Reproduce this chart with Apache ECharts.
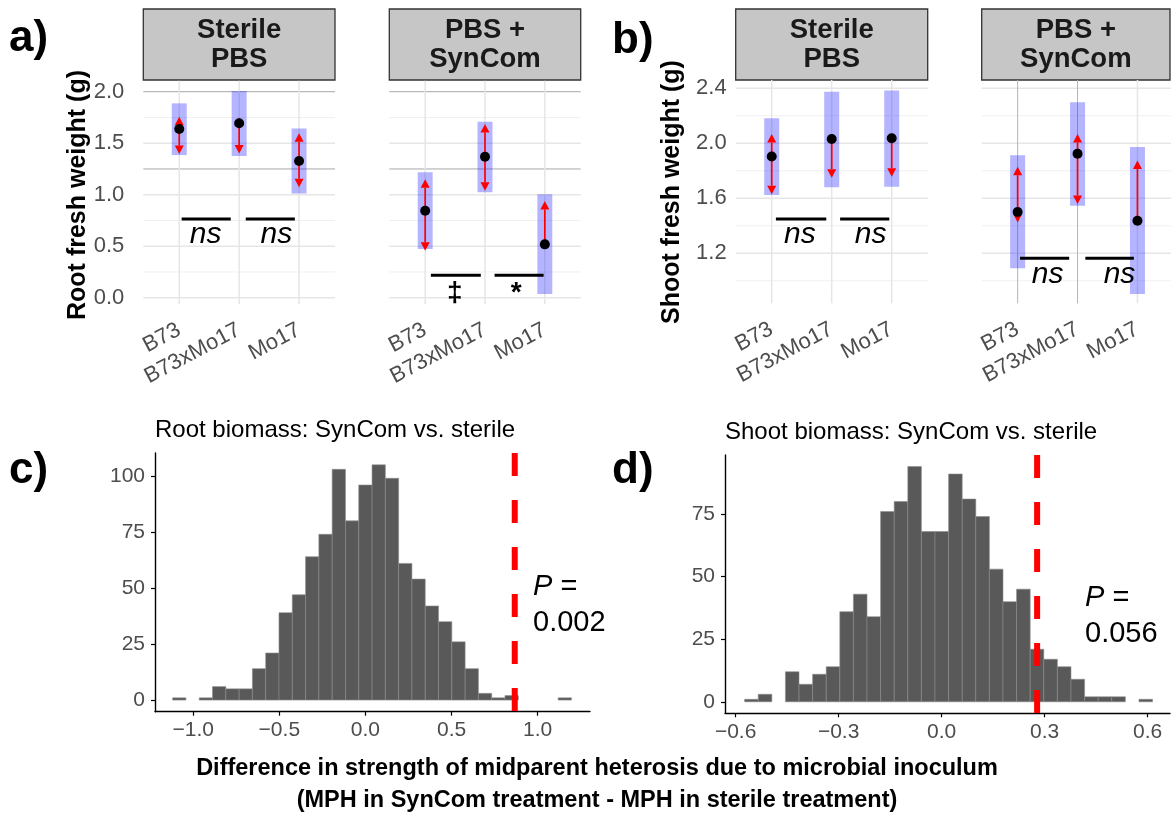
<!DOCTYPE html>
<html><head><meta charset="utf-8">
<script src="https://cdn.jsdelivr.net/npm/echarts@6/dist/echarts.min.js"></script>
<style>html,body{margin:0;padding:0;background:#fff}#c{width:1171px;height:814px}</style>
</head><body><div id="c"></div>
<script>
const FONT = "'Liberation Sans', Arial, Helvetica, sans-serif";

// ---------- top panels: categories ----------
const categories = ['B73', 'B73xMo17', 'Mo17'];
const facetLabels = ['Sterile\nPBS', 'PBS +\nSynCom'];

// a) Root fresh weight (g) - Sterile PBS
const rootSterileMean = [1.638, 1.693, 1.327];
const rootSterileCILow = [1.385, 1.376, 1.013];
const rootSterileCIHigh = [1.887, 2.007, 1.644];
const rootSterileArrowLow = [1.395, 1.40, 1.072];
const rootSterileArrowHigh = [1.757, 1.75, 1.596];
// a) Root fresh weight (g) - PBS + SynCom
const rootSynMean = [0.845, 1.369, 0.518];
const rootSynCILow = [0.473, 1.023, 0.036];
const rootSynCIHigh = [1.217, 1.709, 1.004];
const rootSynArrowLow = [0.456, 1.039, null];
const rootSynArrowHigh = [1.149, 1.686, 0.939];
// b) Shoot fresh weight (g) - Sterile PBS
const shootSterileMean = [1.903, 2.031, 2.036];
const shootSterileCILow = [1.624, 1.68, 1.684];
const shootSterileCIHigh = [2.182, 2.375, 2.383];
const shootSterileArrowLow = [1.629, 1.75, 1.757];
const shootSterileArrowHigh = [2.068, null, null];
// b) Shoot fresh weight (g) - PBS + SynCom
const shootSynMean = [1.500, 1.924, 1.437];
const shootSynCILow = [1.091, 1.546, 0.904];
const shootSynCIHigh = [1.913, 2.298, 1.973];
const shootSynArrowLow = [1.423, 1.559, null];
const shootSynArrowHigh = [1.83, 2.068, 1.874];

// significance brackets: [xStart, xEnd, y]; labels: [x, y, text]
const rootSterileSigLines = [[1.04, 1.86, 0.764], [2.11, 2.93, 0.764]];
const rootSterileSigLabels = [[1.44, 0.61, 'ns'], [2.62, 0.61, 'ns']];
const rootSynSigLines = [[1.095, 1.93, 0.217], [2.16, 2.98, 0.217]];
const rootSynSigLabels = [[1.495, 0.04, '‡'], [2.52, 0.046, '*']];
const shootSterileSigLines = [[1.07, 1.91, 1.449], [2.14, 2.96, 1.449]];
const shootSterileSigLabels = [[1.47, 1.333, 'ns'], [2.65, 1.333, 'ns']];
const shootSynSigLines = [[1.04, 1.86, 1.164], [2.13, 2.94, 1.164]];
const shootSynSigLabels = [[1.5, 1.046, 'ns'], [2.70, 1.046, 'ns']];

// tick values
const rootTicks = [0, 0.5, 1.0, 1.5, 2.0];
const rootMinorTicks = [0.25, 0.75, 1.25, 1.75];
const shootTicks = [1.2, 1.6, 2.0, 2.4];
const shootMinorTicks = [1.0, 1.4, 1.8, 2.2];

// ---------- histograms (30 bins each) ----------
const rootBinWidth = 0.0772;
const rootFirstBinCenter = -1.081;
const rootCounts = [1, 0, 1, 6, 5, 5, 14, 21, 39, 47, 64, 74, 103, 80, 96, 105, 99, 61, 54, 42, 35, 26, 14, 3, 1, 2, 0, 0, 0, 1];
const rootObserved = 0.867;
const rootP = '0.002';
const rootXTicks = [-1.0, -0.5, 0.0, 0.5, 1.0];
const rootYTicks = [0, 25, 50, 75, 100];

const shootBinWidth = 0.0396;
const shootFirstBinCenter = -0.554;
const shootCounts = [1, 3, 0, 12, 7, 11, 14, 36, 43, 34, 76, 80, 94, 68, 68, 91, 81, 74, 53, 40, 45, 21, 17, 14, 9, 2, 2, 2, 0, 1];
const shootObserved = 0.278;
const shootP = '0.056';
const shootXTicks = [-0.6, -0.3, 0.0, 0.3, 0.6];
const shootYTicks = [0, 25, 50, 75];

// ---------- build ----------
const chart = echarts.init(document.getElementById('c'), null, {renderer: 'canvas'});

const facets = [
  {mean: rootSterileMean, lo: rootSterileCILow, hi: rootSterileCIHigh, al: rootSterileArrowLow, ah: rootSterileArrowHigh,
   sigL: rootSterileSigLines, sigT: rootSterileSigLabels, major: rootTicks, minor: rootMinorTicks, darkH: [1.25, 2.0], darkV: [],
   grid: {left: 143.3, top: 80.8, width: 191.7, height: 223.4}, yMin: -0.063, yMax: 2.106, showY: true, labelMargin: 19},
  {mean: rootSynMean, lo: rootSynCILow, hi: rootSynCIHigh, al: rootSynArrowLow, ah: rootSynArrowHigh,
   sigL: rootSynSigLines, sigT: rootSynSigLabels, major: rootTicks, minor: rootMinorTicks, darkH: [1.25, 2.0], darkV: [],
   grid: {left: 389.3, top: 80.8, width: 191.4, height: 223.4}, yMin: -0.063, yMax: 2.106, showY: false},
  {mean: shootSterileMean, lo: shootSterileCILow, hi: shootSterileCIHigh, al: shootSterileArrowLow, ah: shootSterileArrowHigh,
   sigL: shootSterileSigLines, sigT: shootSterileSigLabels, major: shootTicks, minor: shootMinorTicks, darkH: [], darkV: [],
   grid: {left: 735.7, top: 80, width: 192, height: 223.3}, yMin: 0.836, yMax: 2.46, showY: true, labelMargin: 9},
  {mean: shootSynMean, lo: shootSynCILow, hi: shootSynCIHigh, al: shootSynArrowLow, ah: shootSynArrowHigh,
   sigL: shootSynSigLines, sigT: shootSynSigLabels, major: shootTicks, minor: shootMinorTicks, darkH: [], darkV: [1, 2],
   grid: {left: 981.7, top: 80, width: 191.7, height: 223.3}, yMin: 0.836, yMax: 2.46, showY: false}
];

const grids = [], xAxes = [], yAxes = [], series = [];

facets.forEach((f, i) => {
  grids.push(Object.assign({containLabel: false, outerBoundsMode: 'none'}, f.grid));
  xAxes.push({gridIndex: i, type: 'value', min: 0.4, max: 3.6,
    axisLine: {show: false}, axisTick: {show: false}, splitLine: {show: false},
    axisLabel: {customValues: [1, 2, 3], formatter: v => categories[Math.round(v) - 1],
      rotate: 28, fontSize: 22, color: '#4d4d4d', fontFamily: FONT, margin: 12, align: 'right', verticalAlign: 'top',
      padding: [0, 6, 0, 0]}});
  yAxes.push({gridIndex: i, type: 'value', min: f.yMin, max: f.yMax,
    axisLine: {show: false}, axisTick: {show: false}, splitLine: {show: false},
    axisLabel: {show: f.showY, customValues: f.major, formatter: v => v.toFixed(1),
      fontSize: 22, color: '#4d4d4d', fontFamily: FONT, margin: f.labelMargin || 10}});

  // minor horizontal grid
  series.push({type: 'custom', xAxisIndex: i, yAxisIndex: i, z: 1, silent: true,
    data: f.minor.map(v => [1, v]),
    renderItem: (params, api) => {
      const y = api.coord([1, api.value(1)])[1];
      const cs = params.coordSys;
      const dark = f.darkH.indexOf(api.value(1)) >= 0;
      return {type: 'line', shape: {x1: cs.x, y1: y, x2: cs.x + cs.width, y2: y},
        style: {stroke: dark ? '#a8a8a8' : '#f0f0f0', lineWidth: 1}};
    }});
  // major horizontal grid
  series.push({type: 'custom', xAxisIndex: i, yAxisIndex: i, z: 2, silent: true,
    data: f.major.map(v => [1, v]),
    renderItem: (params, api) => {
      const y = api.coord([1, api.value(1)])[1];
      const cs = params.coordSys;
      const dark = f.darkH.some(d => Math.abs(d - api.value(1)) < 1e-9);
      return {type: 'line', shape: {x1: cs.x, y1: y, x2: cs.x + cs.width, y2: y},
        style: {stroke: dark ? '#a8a8a8' : '#e6e6e6', lineWidth: dark ? 1 : 1.5}};
    }});
  // vertical grid at categories
  series.push({type: 'custom', xAxisIndex: i, yAxisIndex: i, z: 2, silent: true,
    data: categories.map((c, k) => [k + 1, f.major[0]]),
    renderItem: (params, api) => {
      const x = api.coord([api.value(0), f.major[0]])[0];
      const cs = params.coordSys;
      const dark = f.darkV.indexOf(api.value(0)) >= 0;
      return {type: 'line', shape: {x1: x, y1: cs.y, x2: x, y2: cs.y + cs.height},
        style: {stroke: dark ? '#b4b4b4' : '#e6e6e6', lineWidth: dark ? 1 : 1.5}};
    }});
  // CI bands, comparison arrows, means
  series.push({type: 'custom', xAxisIndex: i, yAxisIndex: i, z: 5, silent: true,
    data: categories.map((c, k) => [k + 1, f.mean[k], f.lo[k], f.hi[k]]),
    renderItem: (params, api) => {
      const k = params.dataIndex;
      const x = api.value(0), m = api.value(1);
      const pm = api.coord([x, m]);
      const plo = api.coord([x, api.value(2)]), phi = api.coord([x, api.value(3)]);
      const hw = api.size([0.25, 0])[0] / 2;
      const children = [{type: 'rect', shape: {x: pm[0] - hw, y: phi[1], width: 2 * hw, height: plo[1] - phi[1]},
        style: {fill: 'rgba(30,30,255,0.33)'}}];
      [f.al[k], f.ah[k]].forEach(t => {
        if (t === null || t === undefined) return;
        const pt = api.coord([x, t]);
        const len = Math.abs(pt[1] - pm[1]);
        if (len < 2) return;
        const dir = pt[1] < pm[1] ? -1 : 1;
        const head = 8.5, hwid = 4.5;
        const baseY = pt[1] - dir * head;
        if (len > head) {
          children.push({type: 'line', shape: {x1: pm[0], y1: pm[1], x2: pt[0], y2: baseY},
            style: {stroke: '#ff0000', lineWidth: 1.7}});
        }
        children.push({type: 'polygon', shape: {points: [[pt[0], pt[1]], [pt[0] - hwid, baseY], [pt[0] + hwid, baseY]]},
          style: {fill: '#ff0000'}});
      });
      children.push({type: 'circle', shape: {cx: pm[0], cy: pm[1], r: 5}, style: {fill: '#000'}});
      return {type: 'group', children};
    }});
  // significance lines
  series.push({type: 'custom', xAxisIndex: i, yAxisIndex: i, z: 6, silent: true,
    data: f.sigL.map(s => [s[0], s[2], s[1]]),
    renderItem: (params, api) => {
      const p1 = api.coord([api.value(0), api.value(1)]);
      const p2 = api.coord([api.value(2), api.value(1)]);
      return {type: 'line', shape: {x1: p1[0], y1: p1[1], x2: p2[0], y2: p2[1]},
        style: {stroke: '#000', lineWidth: 3}};
    }});
  // significance labels
  series.push({type: 'custom', xAxisIndex: i, yAxisIndex: i, z: 7, silent: true,
    data: f.sigT.map(s => [s[0], s[1]]),
    renderItem: (params, api) => {
      const p = api.coord([api.value(0), api.value(1)]);
      const txt = f.sigT[params.dataIndex][2];
      const isNs = txt === 'ns';
      return {type: 'text', x: p[0], y: p[1],
        style: {text: txt, fill: '#000', align: 'center', verticalAlign: 'middle',
          font: (isNs ? 'italic 30px ' : 'bold 28px ') + FONT}};
    }});
});

// histograms
const hists = [
  {counts: rootCounts, w: rootBinWidth, c0: rootFirstBinCenter, obs: rootObserved, xt: rootXTicks, yt: rootYTicks,
   grid: {left: 155, top: 453, width: 435, height: 258.7}, xMin: -1.222, xMax: 1.304, yMin: -5.2, yMax: 110.3},
  {counts: shootCounts, w: shootBinWidth, c0: shootFirstBinCenter, obs: shootObserved, xt: shootXTicks, yt: shootYTicks,
   grid: {left: 725, top: 455, width: 445, height: 258.3}, xMin: -0.631, xMax: 0.665, yMin: -4.6, yMax: 98.6}
];
hists.forEach((h, j) => {
  const gi = 4 + j;
  grids.push(Object.assign({containLabel: false, outerBoundsMode: 'none'}, h.grid));
  xAxes.push({gridIndex: gi, type: 'value', min: h.xMin, max: h.xMax,
    axisLine: {show: true, onZero: false, lineStyle: {color: '#000', width: 1.4}},
    axisTick: {show: true, customValues: h.xt, length: 4, lineStyle: {color: '#000', width: 1.2}},
    splitLine: {show: false},
    axisLabel: {customValues: h.xt, formatter: v => (v < -1e-9 ? '\u2212' : '') + Math.abs(v).toFixed(1),
      fontSize: 21, color: '#4d4d4d', fontFamily: FONT, margin: 8}});
  yAxes.push({gridIndex: gi, type: 'value', min: h.yMin, max: h.yMax,
    axisLine: {show: true, onZero: false, lineStyle: {color: '#000', width: 1.4}},
    axisTick: {show: true, customValues: h.yt, length: 4, lineStyle: {color: '#000', width: 1.2}},
    splitLine: {show: false},
    axisLabel: {customValues: h.yt, fontSize: 21, color: '#4d4d4d', fontFamily: FONT, margin: 10}});
  series.push({type: 'custom', xAxisIndex: gi, yAxisIndex: gi, z: 3, silent: true,
    data: h.counts.map((n, k) => [h.c0 + k * h.w, n]),
    renderItem: (params, api) => {
      const c = api.value(0), n = api.value(1);
      if (!(n > 0)) return;
      const p0 = api.coord([c - h.w / 2, 0]);
      const p1 = api.coord([c + h.w / 2, n]);
      return {type: 'rect', shape: {x: p0[0], y: p1[1], width: p1[0] - p0[0], height: p0[1] - p1[1]},
        style: {fill: '#595959', stroke: '#8c8c8c', lineWidth: 0.6}};
    }});
  series.push({type: 'custom', xAxisIndex: gi, yAxisIndex: gi, z: 6, silent: true,
    data: [[h.obs, 0]],
    renderItem: (params, api) => {
      const x = api.coord([api.value(0), 0])[0];
      const cs = params.coordSys;
      return {type: 'line', shape: {x1: x, y1: cs.y, x2: x, y2: cs.y + cs.height},
        style: {stroke: '#ff0000', lineWidth: 6, lineDash: [23, 24]}};
    }});
});

// decorations
const graphic = [];
const strips = [
  {x: 143.3, w: 191.7, t: facetLabels[0]}, {x: 389.3, w: 191.4, t: facetLabels[1]},
  {x: 735.7, w: 192, t: facetLabels[0]}, {x: 981.7, w: 188.3, t: facetLabels[1]}
];
strips.forEach(s => {
  graphic.push({type: 'rect', shape: {x: s.x, y: 9, width: s.w, height: 71},
    style: {fill: '#c6c6c6', stroke: '#333', lineWidth: 1.3}});
  graphic.push({type: 'text', x: s.x + s.w / 2, y: 45,
    style: {text: s.t, font: 'bold 27.5px ' + FONT, fill: '#1a1a1a', align: 'center', verticalAlign: 'middle', lineHeight: 29}});
});
[['a)', 9, 39], ['b)', 612, 41], ['c)', 9, 471], ['d)', 612, 471]].forEach(l => {
  graphic.push({type: 'text', x: l[1], y: l[2],
    style: {text: l[0], font: 'bold 44px ' + FONT, fill: '#000', align: 'left', verticalAlign: 'middle'}});
});
graphic.push({type: 'text', x: 78, y: 195, rotation: Math.PI / 2,
  style: {text: 'Root fresh weight (g)', font: 'bold 25px ' + FONT, fill: '#000', align: 'center', verticalAlign: 'middle'}});
graphic.push({type: 'text', x: 672, y: 192, rotation: Math.PI / 2,
  style: {text: 'Shoot fresh weight (g)', font: 'bold 25px ' + FONT, fill: '#000', align: 'center', verticalAlign: 'middle'}});
graphic.push({type: 'text', x: 155, y: 430,
  style: {text: 'Root biomass: SynCom vs. sterile', font: '24px ' + FONT, fill: '#000', align: 'left', verticalAlign: 'middle'}});
graphic.push({type: 'text', x: 725, y: 432,
  style: {text: 'Shoot biomass: SynCom vs. sterile', font: '24px ' + FONT, fill: '#000', align: 'left', verticalAlign: 'middle'}});
[[533, 569, rootP], [1085, 580, shootP]].forEach(p => {
  graphic.push({type: 'text', x: p[0], y: p[1],
    style: {text: '{i|P}{n| =}\n{n|' + p[2] + '}', align: 'left', verticalAlign: 'top', lineHeight: 36, fill: '#000',
      rich: {i: {fontStyle: 'italic', fontSize: 29, fontFamily: FONT, lineHeight: 36},
             n: {fontSize: 29, fontFamily: FONT, lineHeight: 36}}}});
});
graphic.push({type: 'text', x: 597, y: 769,
  style: {text: 'Difference in strength of midparent heterosis due to microbial inoculum', font: 'bold 23.5px ' + FONT, fill: '#000', align: 'center', verticalAlign: 'middle'}});
graphic.push({type: 'text', x: 597, y: 801,
  style: {text: '(MPH in SynCom treatment - MPH in sterile treatment)', font: 'bold 23.5px ' + FONT, fill: '#000', align: 'center', verticalAlign: 'middle'}});

chart.setOption({
  animation: false,
  backgroundColor: '#fff',
  grid: grids, xAxis: xAxes, yAxis: yAxes, series: series,
  graphic: {elements: graphic}
});
</script></body></html>
